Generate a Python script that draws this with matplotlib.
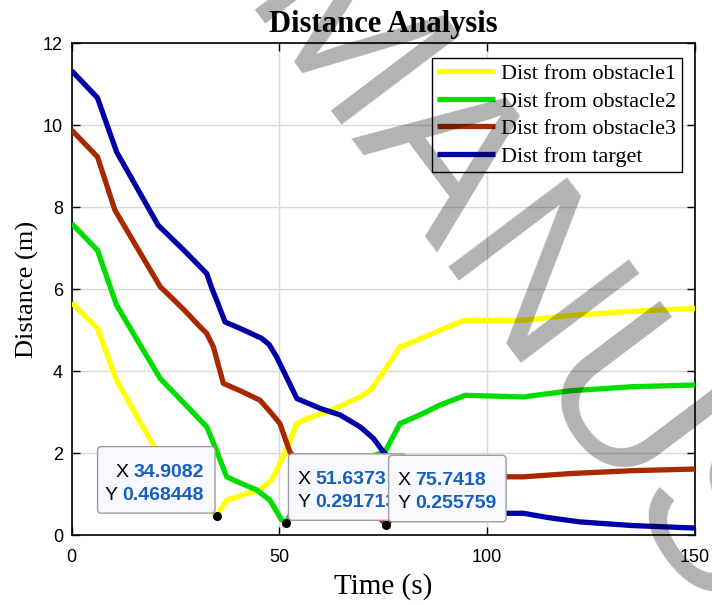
import numpy as np
import matplotlib
matplotlib.use("Agg")
import matplotlib.pyplot as plt
import matplotlib.transforms as mtransforms
from matplotlib.patches import FancyBboxPatch
from matplotlib.font_manager import FontProperties

# ---------------- data ----------------
t_obs1 = [0, 6.2, 10.8, 15, 19.6, 22, 26, 30, 34.9082, 35.7, 37.3, 41, 45.3, 48.1, 50.5,
          52.5, 54.2, 57, 61.4, 65, 69.4, 72, 74.2, 76.5, 79.0, 83.8, 88.6, 94.7, 108.7,
          120, 135, 150]
d_obs1 = [5.67, 5.04, 3.78, 3.02, 2.20, 1.85, 1.35, 0.90, 0.468448, 0.60, 0.85, 0.97, 1.10,
          1.34, 1.83, 2.30, 2.72, 2.85, 3.01, 3.16, 3.37, 3.55, 3.86, 4.20, 4.59, 4.78, 5.00,
          5.24, 5.24, 5.36, 5.46, 5.53]

t_obs2 = [0, 6.2, 10.8, 16, 21.3, 27, 32.5, 34.5, 37.3, 41, 44.5, 47.7, 50.5, 51.6373, 53,
          57, 62, 67, 71, 75.4, 79.0, 83.8, 88.6, 94.7, 108.7, 120, 135, 150]
d_obs2 = [7.60, 6.95, 5.61, 4.72, 3.82, 3.22, 2.64, 2.15, 1.42, 1.25, 1.10, 0.85, 0.37,
          0.291713, 0.60, 1.05, 1.45, 1.72, 1.88, 2.03, 2.72, 2.93, 3.17, 3.41, 3.37, 3.52,
          3.62, 3.66]

t_obs3 = [0, 6.2, 10.4, 15, 21.3, 27, 30.9, 32.5, 34.1, 36.5, 41, 45.3, 48.1, 50.1, 52.5,
          56, 60, 65, 70, 74, 75.7418, 78, 82, 87, 92, 97, 104.5, 108.7, 120, 135, 150]
d_obs3 = [9.88, 9.23, 7.93, 7.14, 6.06, 5.50, 5.08, 4.92, 4.59, 3.70, 3.50, 3.29, 2.97, 2.72,
          2.03, 1.55, 1.20, 0.88, 0.62, 0.42, 0.255759, 0.50, 0.85, 1.15, 1.32, 1.40, 1.42,
          1.42, 1.50, 1.57, 1.61]

t_tgt = [0, 6.2, 10.8, 15, 20.8, 27, 32.5, 33.8, 34.9, 36.9, 41, 45.7, 47.5, 49.3, 54.2,
         59.8, 64.6, 69.4, 72.6, 75.0, 80, 85, 90, 95, 104.5, 108.7, 115, 122.3, 135, 150]
d_tgt = [11.33, 10.67, 9.35, 8.60, 7.56, 6.95, 6.38, 6.00, 5.73, 5.20, 5.02, 4.80, 4.65,
         4.35, 3.33, 3.09, 2.93, 2.64, 2.36, 2.03, 1.50, 1.10, 0.80, 0.60, 0.53, 0.53, 0.42,
         0.32, 0.23, 0.17]

series_labels = ["Dist from obstacle1", "Dist from obstacle2", "Dist from obstacle3",
                 "Dist from target"]
series_colors = ["#FFFF00", "#00DD00", "#A82800", "#0000A6"]

tip_x = [34.9082, 51.6373, 75.7418]
tip_y = [0.468448, 0.291713, 0.255759]
tip_xtext = ["34.9082", "51.6373", "75.7418"]
tip_ytext = ["0.468448", "0.291713", "0.255759"]
tip_side = ["left", "right", "right"]

xticks = [0, 50, 100, 150]
yticks = [0, 2, 4, 6, 8, 10, 12]

watermark_text = "MANUSCRIPT"

# ---------------- figure ----------------
SANS = ["Liberation Sans", "DejaVu Sans"]
SERIF = ["Liberation Serif", "DejaVu Serif"]

fig = plt.figure(figsize=(7.12, 6.05), dpi=100)
fig.patch.set_facecolor("white")
ax = fig.add_axes([0.1007, 0.1157, 0.8754, 0.8127])

for t, d, lab, c in zip([t_obs1, t_obs2, t_obs3, t_tgt],
                        [d_obs1, d_obs2, d_obs3, d_tgt],
                        series_labels, series_colors):
    ax.plot(t, d, color=c, lw=3.8, label=lab, solid_joinstyle="round",
            solid_capstyle="butt", zorder=3)

ax.set_xlim(0, 150)
ax.set_ylim(0, 12)
ax.set_xticks(xticks)
ax.set_yticks(yticks)
ax.grid(True, color="#d9d9d9", lw=1.0)
ax.set_axisbelow(True)
for s in ax.spines.values():
    s.set_linewidth(1.2)
    s.set_color("black")
ax.tick_params(direction="in", top=True, right=True, length=6, width=1.0,
               labelsize=13, colors="black")
ax.tick_params(axis="x", pad=10)
ax.tick_params(axis="y", pad=6.3)
for lbl in ax.get_xticklabels() + ax.get_yticklabels():
    lbl.set_family(SANS)

ax.set_title("Distance Analysis", fontsize=22, fontweight="bold", family=SERIF, pad=8.4)
ax.set_xlabel("Time (s)", fontsize=21, family=SERIF, labelpad=5)
ax.set_ylabel("Distance (m)", fontsize=19, family=SERIF, labelpad=3)

leg = ax.legend(loc="upper right", bbox_to_anchor=(0.979, 0.970), borderaxespad=0,
                prop=FontProperties(family=SERIF, size=16), handlelength=2.6,
                handletextpad=0.27, labelspacing=0.31, borderpad=0.25,
                fancybox=False, framealpha=1, edgecolor="black")
leg.get_frame().set_linewidth(1.0)
leg.set_zorder(20)

# ---------------- data tips ----------------
fig.canvas.draw()
renderer = fig.canvas.get_renderer()
dpi = fig.dpi
BOX_W, BOX_H = 1.175, 0.665
for i, (xv, yv, xs, ys, side) in enumerate(zip(tip_x, tip_y, tip_xtext, tip_ytext, tip_side)):
    z = 10 + 2 * i
    base = fig.dpi_scale_trans + mtransforms.ScaledTranslation(xv, yv, ax.transData)
    x0 = (-0.017 - BOX_W) if side == "left" else 0.022
    y0 = 0.027
    box = FancyBboxPatch((x0, y0), BOX_W, BOX_H,
                         boxstyle="round,pad=0,rounding_size=0.04",
                         transform=base, facecolor="#F8F9FE", edgecolor="#9c9c9c",
                         lw=1.0, zorder=z, clip_on=False)
    ax.add_patch(box)
    top = y0 + BOX_H
    for lab, val, dy in (("X", xs, 0.30), ("Y", ys, 0.53)):
        yb = top - dy
        if side == "left":
            tv = ax.text(x0 + BOX_W - 0.11, yb, val, transform=base, ha="right",
                         va="baseline", fontsize=14, fontweight="bold", color="#1560BD",
                         family=SANS, zorder=z + 0.5, clip_on=False)
            ext = tv.get_window_extent(renderer)
            ax.text(x0 + BOX_W - 0.11 - ext.width / dpi - 0.05, yb, lab, transform=base,
                    ha="right", va="baseline", fontsize=14, color="black", family=SANS,
                    zorder=z + 0.5, clip_on=False)
        else:
            tl = ax.text(x0 + 0.09, yb, lab, transform=base, ha="left", va="baseline",
                         fontsize=14, color="black", family=SANS, zorder=z + 0.5,
                         clip_on=False)
            ext = tl.get_window_extent(renderer)
            ax.text(x0 + 0.09 + ext.width / dpi + 0.05, yb, val, transform=base,
                    ha="left", va="baseline", fontsize=14, fontweight="bold",
                    color="#1560BD", family=SANS, zorder=z + 0.5, clip_on=False)

ax.plot(tip_x, tip_y, "o", color="black", ms=5.5, zorder=30, clip_on=False)

# ---------------- watermark (real text, rotated) ----------------
fig.text(236.4 / 712, 595.8 / 605, watermark_text, fontsize=155, family=SANS,
         rotation=-53, rotation_mode="anchor", ha="left", va="baseline",
         color="black", alpha=0.3, zorder=100)

fig.savefig("out.png", dpi=100, facecolor="white")
